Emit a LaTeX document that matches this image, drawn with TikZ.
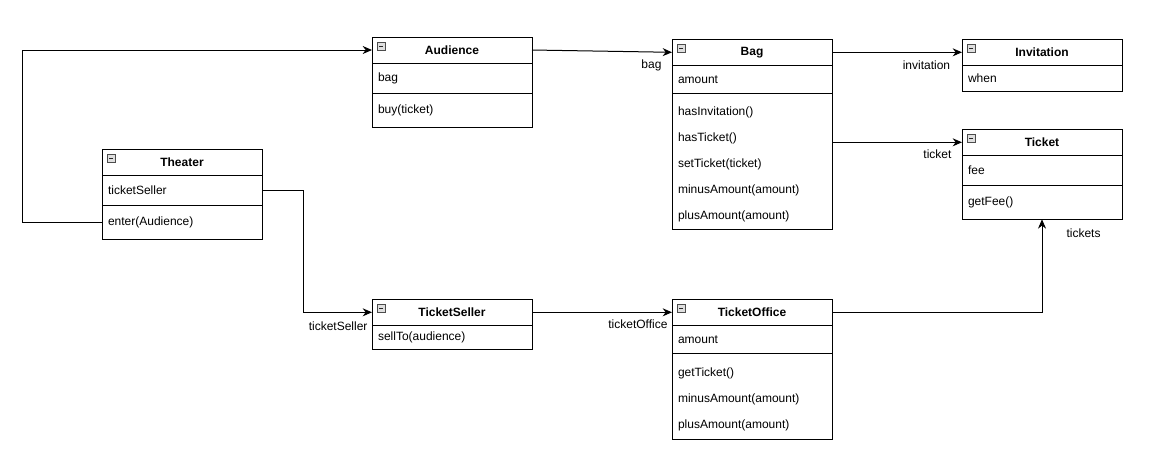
\documentclass[tikz,border=0pt]{standalone}
\usepackage{fontspec}
\setmainfont{Liberation Sans}
\usetikzlibrary{positioning,arrows.meta,calc}

\newcommand{\firstrow}{\rule{0pt}{11.5pt}}

\tikzset{
  head/.style={draw, line width=0.75pt, minimum width=120pt, minimum height=19.5pt, inner sep=0pt, outer sep=0pt, font=\fontsize{9}{11}\selectfont\bfseries},
  part/.style={draw, line width=0.75pt, text width=111pt, inner xsep=4.5pt, inner ysep=0pt, outer sep=0pt, align=left, font=\fontsize{9}{19.5}\selectfont},
  link/.style={line width=0.75pt, -{Stealth[length=7pt,width=6pt]}},
  elbl/.style={inner sep=0pt, anchor=east, font=\fontsize{9}{11}\selectfont},
}

\begin{document}
\begin{tikzpicture}[x=0.75pt,y=-0.75pt]
\fill[white] (0,0) rectangle (1172,458);
\useasboundingbox (0,0) rectangle (1172,458);

\node[head, anchor=north west] (aud) at (372,37) {Audience};
\node[part, minimum height=22.5pt, below=0pt of aud] (aud-a) {bag};
\node[part, minimum height=25.5pt, below=0pt of aud-a] (aud-m) {buy(ticket)};

\node[head, anchor=north west] (bag) at (672,39.3) {Bag};
\node[part, minimum height=21pt, below=0pt of bag] (bag-a) {amount};
\node[part, minimum height=102pt, below=0pt of bag-a] (bag-m) {\firstrow hasInvitation()\\hasTicket()\\setTicket(ticket)\\minusAmount(amount)\\plusAmount(amount)};

\node[head, anchor=north west] (inv) at (962,39.3) {Invitation};
\node[part, minimum height=19.5pt, below=0pt of inv] (inv-a) {when};

\node[head, anchor=north west] (tkt) at (962,129.3) {Ticket};
\node[part, minimum height=22.5pt, below=0pt of tkt] (tkt-a) {fee};
\node[part, minimum height=25.5pt, below=0pt of tkt-a] (tkt-m) {getFee()};

\node[head, anchor=north west] (thr) at (102,149.3) {Theater};
\node[part, minimum height=22.5pt, below=0pt of thr] (thr-a) {ticketSeller};
\node[part, minimum height=25.5pt, below=0pt of thr-a] (thr-m) {enter(Audience)};

\node[head, anchor=north west] (tsl) at (372,299.3) {TicketSeller};
\node[part, minimum height=18pt, below=0pt of tsl] (tsl-m) {sellTo(audience)};

\node[head, anchor=north west] (tof) at (672,299.3) {TicketOffice};
\node[part, minimum height=21pt, below=0pt of tof] (tof-a) {amount};
\node[part, minimum height=64.5pt, below=0pt of tof-a] (tof-m) {\firstrow getTicket()\\minusAmount(amount)\\plusAmount(amount)};

\foreach \c in {aud,bag,inv,tkt,thr,tsl,tof} {
  \draw[fill=gray!25, draw=gray!60!black, line width=0.5pt] ($(\c.north west)+(5,5)$) rectangle +(8,8);
  \draw[gray!30!black, line width=0.75pt] ($(\c.north west)+(7,9)$) -- +(4,0);
}

\draw[link] (thr-m.west) -- ++(-80,0) |- (aud.west);
\draw[link] (aud.east) -- (bag.west) node[elbl, at end, xshift=-7.5pt, yshift=-9.75pt] {bag};
\draw[link] (bag.east) -- (inv.west) node[elbl, at end, xshift=-8.5pt, yshift=-9.5pt] {invitation};
\draw[link] (bag-m.east |- tkt.west) -- (tkt.west) node[elbl, at end, xshift=-7.5pt, yshift=-9pt] {ticket};
\draw[link] (thr-a.east) -- ++(41,0) |- (tsl.west) node[elbl, at end, xshift=-3pt, yshift=-10.8pt] {ticketSeller};
\draw[link] (tsl.east) -- (tof.west) node[elbl, at end, xshift=-3pt, yshift=-8.8pt] {ticketOffice};
\draw[link] (tof.east) -| (tkt-m.south) node[elbl, anchor=west, at end, xshift=18pt, yshift=-10.3pt] {tickets};
\end{tikzpicture}
\end{document}
